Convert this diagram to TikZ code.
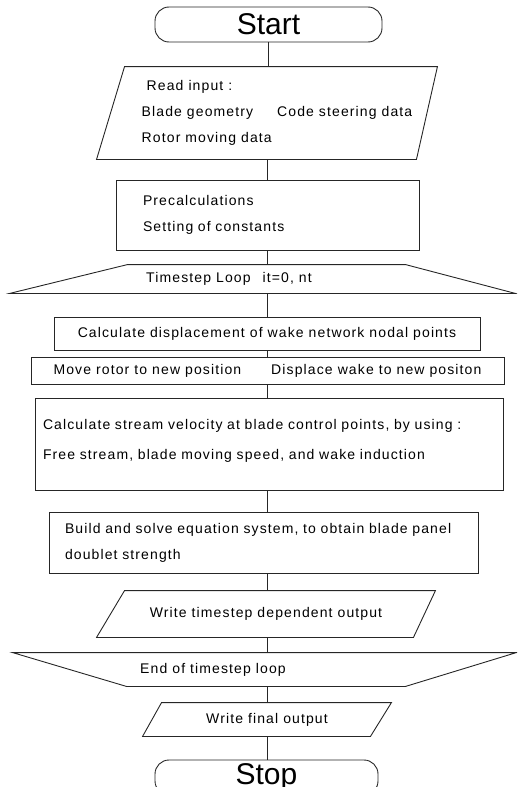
\documentclass[tikz,border=0pt]{standalone}
\usepackage{fontspec}
\setmainfont{Liberation Sans}
\newfontfamily\plotfont[LetterSpace=8]{Liberation Sans}
\usepackage{tikz}
\usetikzlibrary{positioning}
\usetikzlibrary{shapes}
\usetikzlibrary{calc}

\tikzset{
  flow/.style={line width=0.9pt, text=black, inner sep=0pt,
    font=\plotfont\fontsize{14}{26}\selectfont},
  term/.style={flow, draw=black!85, rectangle, rounded corners=14pt, minimum width=227pt,
    minimum height=35pt, font=\fontsize{30}{30}\selectfont},
  procbox/.style={flow, draw=black!85, rectangle},
  slantbox/.style={flow, rectangle},
  outline/.style={line width=0.9pt, black!85},
  link/.style={draw, line width=0.9pt, black!85}
}

\begin{document}
\begin{tikzpicture}[x=1pt, y=-1pt]
 \path[use as bounding box, clip] (0,0) rectangle (517,787);

 %start
 \node[term] (start) at (268.5,24.5) {Start};

 %input
 \node[slantbox, minimum width=340pt, minimum height=92pt, align=left] (read) at (267,113)
   {\hspace*{25pt}Read input :\\
    \hspace*{20pt}Blade geometry\hspace{24pt}Code steering data\\
    \hspace*{20pt}Rotor moving data};
 \draw[outline] ($(read.north west)+(28,0)$) -- (read.north east)
   -- ($(read.south east)+(-21,0)$) -- (read.south west) -- cycle;

 %precalc
 \node[procbox, minimum width=303pt, minimum height=70pt, text width=249pt,
   inner xsep=27pt, align=left] (pre) at (267.5,215)
   {Precalculations\\ Setting of constants};

 %loop start
 \node[slantbox, minimum width=505pt, minimum height=28pt] (loop) at (262.5,279)
   {Timestep Loop\hspace{12pt}it=0, nt\hspace*{67pt}};
 \draw[outline] ($(loop.north west)+(118,0)$) -- ($(loop.north east)+(-110,0)$)
   -- (loop.south east) -- (loop.south west) -- cycle;

 %body
 \node[procbox, minimum width=426pt, minimum height=33pt] (disp) at (267,333.5)
   {Calculate displacement of wake network nodal points};
 \node[procbox, minimum width=473pt, minimum height=27pt] (move) at (267.5,370.5)
   {Move rotor to new position\hspace{30pt}Displace wake to new positon};
 \node[procbox, minimum width=468pt, minimum height=92pt, text width=452pt,
   inner xsep=8pt, align=left, font=\plotfont\fontsize{14}{30}\selectfont]
   (stream) at (269,444)
   {Calculate stream velocity at blade control points, by using :\\
    Free stream, blade moving speed, and wake induction\\[-20pt]\mbox{}};
 \node[procbox, minimum width=429pt, minimum height=61pt, text width=397pt,
   inner xsep=16pt, align=left] (solve) at (263.5,542.5)
   {Build and solve equation system, to obtain blade panel\\ doublet strength};
 \node[slantbox, minimum width=338pt, minimum height=46pt] (wout) at (266,614)
   {Write timestep dependent output};
 \draw[outline] ($(wout.north west)+(28,0)$) -- (wout.north east)
   -- ($(wout.south east)+(-22,0)$) -- (wout.south west) -- cycle;

 %loop end
 \node[slantbox, minimum width=503pt, minimum height=33pt] (endloop) at (264.5,669.5)
   {End of timestep loop\hspace*{103pt}};
 \draw[outline] (endloop.north west) -- (endloop.north east)
   -- ($(endloop.south east)+(-111,0)$) -- ($(endloop.south west)+(114,0)$) -- cycle;

 %output
 \node[slantbox, minimum width=248pt, minimum height=33pt] (fout) at (267,719.5)
   {Write final output};
 \draw[outline] ($(fout.north west)+(19,0)$) -- (fout.north east)
   -- ($(fout.south east)+(-21,0)$) -- (fout.south west) -- cycle;

 %stop
 \node[term, minimum width=223pt] (stop) at (266.5,777.5) {Stop};

 %lines
 \path[link] (start.south) -- (start.south |- read.north);
 \path[link] (read.south) -- (read.south |- pre.north);
 \path[link] (pre.south) -- (pre.south |- loop.north);
 \path[link] (pre.south |- loop.south) -- (pre.south |- disp.north);
 \path[link] (disp.south) -- (disp.south |- move.north);
 \path[link] (disp.south |- move.south) -- (disp.south |- stream.north);
 \path[link] (disp.south |- stream.south) -- (disp.south |- solve.north);
 \path[link] (disp.south |- solve.south) -- (disp.south |- wout.north);
 \path[link] (disp.south |- wout.south) -- (disp.south |- endloop.north);
 \path[link] (disp.south |- endloop.south) -- (disp.south |- fout.north);
 \path[link] (fout.south) -- (fout.south |- stop.north);

\end{tikzpicture}
\end{document}
